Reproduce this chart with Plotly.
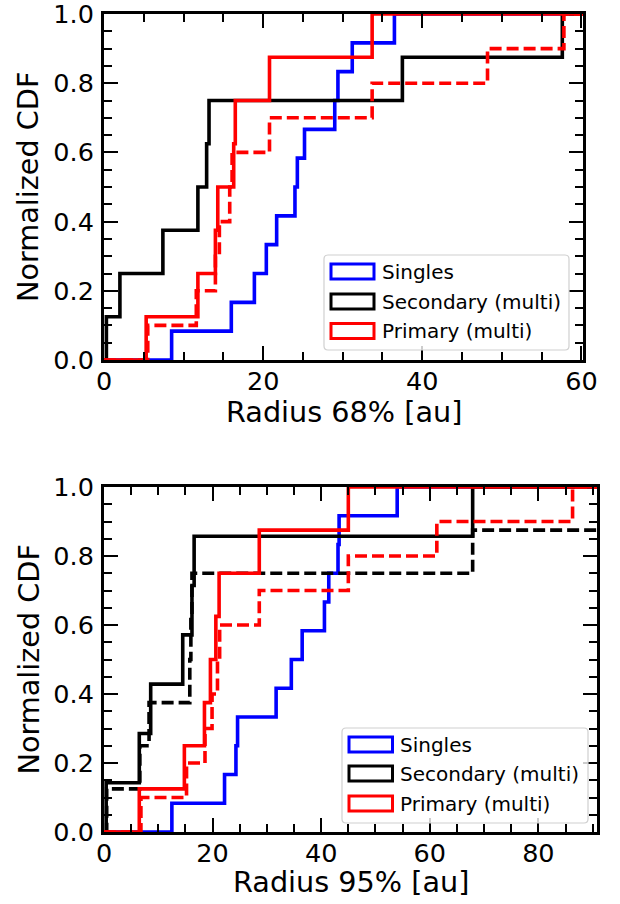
import plotly.graph_objects as go

# ---------------- data ----------------
# Top panel: Radius 68% [au]
r68_singles = [8.5, 16.0, 18.9, 20.4, 21.7, 24.0, 24.3, 25.2, 29.0, 29.4, 31.2, 36.5]
r68_secondary = [0.3, 2.0, 7.4, 11.8, 12.9, 13.2, 37.5, 57.6]
r68_primary = [5.3, 11.8, 14.0, 14.3, 16.3, 16.5, 20.8, 33.7]
r68_primary_alt = [5.5, 11.6, 14.0, 14.5, 15.8, 16.1, 20.8, 33.7, 48.2, 57.8]

# Bottom panel: Radius 95% [au]
r95_singles = [12.5, 22.2, 24.3, 24.6, 31.7, 34.5, 36.5, 40.6, 41.4, 43.1, 43.3, 54.0]
r95_secondary = [0.4, 6.5, 8.6, 14.5, 16.2, 16.6, 67.9]
r95_secondary_alt = [0.5, 6.6, 8.3, 15.8, 16.0, 16.2, 67.9, 96.0]
r95_primary = [6.5, 14.8, 18.5, 19.6, 20.6, 21.2, 28.6, 45.0]
r95_primary_alt = [6.8, 15.2, 18.6, 19.9, 20.9, 21.3, 28.6, 45.0, 61.3, 86.3]

legend_labels = ["Singles", "Secondary (multi)", "Primary (multi)"]
legend_colors = ["#0000ff", "#000000", "#ff0000"]

x_titles = ["Radius 68% [au]", "Radius 95% [au]"]
y_title = "Normalized CDF"
x_ranges = [[0, 60.2], [0, 90.8]]

# page is 620x904; the body margin is removed in the page (post_script) so
# the figure fills the window exactly.
W, H = 620, 904
OFF = 0
FONT = "DejaVu Sans"
TICK_SIZE = 25.5
TITLE_SIZE = 28.7


def cdf_xy(vals, xend):
    v = sorted(vals)
    n = len(v)
    xs = [0] + v + [max(xend, v[-1])]
    ys = [0] + [(i + 1) / n for i in range(n)] + [1.0]
    return xs, ys


fig = go.Figure()

panels = [
    ("x", "y", x_ranges[0], [
        (r68_singles, "#0000ff", "solid"),
        (r68_secondary, "#000000", "solid"),
        (r68_primary_alt, "#ff0000", "dash"),
        (r68_primary, "#ff0000", "solid"),
    ]),
    ("x2", "y2", x_ranges[1], [
        (r95_singles, "#0000ff", "solid"),
        (r95_secondary_alt, "#000000", "dash"),
        (r95_secondary, "#000000", "solid"),
        (r95_primary_alt, "#ff0000", "dash"),
        (r95_primary, "#ff0000", "solid"),
    ]),
]

for xa, ya, xr, series in panels:
    for vals, col, dash in series:
        xs, ys = cdf_xy(vals, xr[1] + 5)
        fig.add_trace(go.Scatter(
            x=xs, y=ys, xaxis=xa, yaxis=ya, mode="lines",
            line=dict(color=col, width=3.6, shape="hv",
                      dash="12px,5px" if dash == "dash" else "solid"),
            showlegend=False, hoverinfo="skip"))


def px2paper(x, y):
    return (x - OFF) / W, 1 - (y - OFF) / H


def xdom(x0, x1):
    return [px2paper(x0, 0)[0], px2paper(x1, 0)[0]]


def ydom(y0, y1):
    return [px2paper(0, y1)[1], px2paper(0, y0)[1]]


# plot areas in page pixels
top = dict(x0=104, x1=583, y0=14, y1=360)
bot = dict(x0=104, x1=597, y0=487, y1=832)

axis_common = dict(
    showline=True, linewidth=3, linecolor="black", mirror="allticks",
    ticks="inside", ticklen=14, tickwidth=2, tickcolor="black",
    showgrid=False, zeroline=False, automargin=False,
    ticklabeloverflow="allow",
    tickfont=dict(family=FONT, size=TICK_SIZE, color="black"),
)
xminor = dict(ticks="inside", ticklen=8, tickwidth=2, dtick=5, tickcolor="black")
yminor = dict(ticks="inside", ticklen=8, tickwidth=2, dtick=0.05, tickcolor="black")

fig.update_layout(
    template="none",
    width=W, height=H, margin=dict(l=0, r=0, t=0, b=0),
    paper_bgcolor="white", plot_bgcolor="white",
    font=dict(family=FONT, color="black"),
    xaxis=dict(domain=xdom(top["x0"], top["x1"]), range=x_ranges[0],
               anchor="y", dtick=20, tick0=0, minor=xminor,
               ticklabelstandoff=-4, **axis_common),
    yaxis=dict(domain=ydom(top["y0"], top["y1"]), range=[0, 1],
               anchor="x", dtick=0.2, tick0=0, tickformat=".1f", minor=yminor,
               ticklabelstandoff=2, **axis_common),
    xaxis2=dict(domain=xdom(bot["x0"], bot["x1"]), range=x_ranges[1],
                anchor="y2", dtick=20, tick0=0, minor=xminor,
                ticklabelstandoff=-4, **axis_common),
    yaxis2=dict(domain=ydom(bot["y0"], bot["y1"]), range=[0, 1],
                anchor="x2", dtick=0.2, tick0=0, tickformat=".1f", minor=yminor,
                ticklabelstandoff=2, **axis_common),
)

shapes = []
annotations = []

# axis titles
for title, (cx, cy) in zip(x_titles, [((top["x0"] + top["x1"]) / 2, 412),
                                      ((bot["x0"] + bot["x1"]) / 2, 881.5)]):
    ax, ay = px2paper(cx, cy)
    annotations.append(dict(xref="paper", yref="paper", x=ax, y=ay, xanchor="center",
                            yanchor="middle", showarrow=False, text=title,
                            font=dict(family=FONT, size=TITLE_SIZE, color="black")))
for cy in [(top["y0"] + top["y1"]) / 2, (bot["y0"] + bot["y1"]) / 2]:
    ax, ay = px2paper(28, cy)
    annotations.append(dict(xref="paper", yref="paper", x=ax, y=ay, xanchor="center",
                            yanchor="middle", showarrow=False, text=y_title, textangle=-90,
                            font=dict(family=FONT, size=TITLE_SIZE, color="black")))


# ---------------- manual legends (patch-style, like the reference) ----------------
def rounded_rect_path(x0, y0, x1, y1, r):
    def P(x, y):
        a, b = px2paper(x, y)
        return f"{a:.5f},{b:.5f}"
    return (f"M {P(x0 + r, y0)} L {P(x1 - r, y0)} Q {P(x1, y0)} {P(x1, y0 + r)} "
            f"L {P(x1, y1 - r)} Q {P(x1, y1)} {P(x1 - r, y1)} "
            f"L {P(x0 + r, y1)} Q {P(x0, y1)} {P(x0, y1 - r)} "
            f"L {P(x0, y0 + r)} Q {P(x0, y0)} {P(x0 + r, y0)} Z")


legend_specs = [
    dict(box=(324, 255, 569, 350), patch_x=(331, 374), rows=[271.5, 301.5, 331], text_x=380),
    dict(box=(342, 728, 588, 823), patch_x=(349, 392.5), rows=[744.5, 773.5, 803.5], text_x=398),
]

for spec in legend_specs:
    bx0, by0, bx1, by1 = spec["box"]
    shapes.append(dict(type="path", xref="paper", yref="paper",
                       path=rounded_rect_path(bx0, by0, bx1, by1, 4),
                       fillcolor="rgba(255,255,255,0.8)",
                       line=dict(color="#d0d0d0", width=1.2)))
    for lab, col, cy in zip(legend_labels, legend_colors, spec["rows"]):
        px0, py0 = px2paper(spec["patch_x"][0], cy - 7.5)
        px1, py1 = px2paper(spec["patch_x"][1], cy + 7.5)
        shapes.append(dict(type="rect", xref="paper", yref="paper",
                           x0=px0, x1=px1, y0=py1, y1=py0,
                           fillcolor="rgba(0,0,0,0)", line=dict(color=col, width=3)))
        tx, ty = px2paper(spec["text_x"], cy)
        annotations.append(dict(xref="paper", yref="paper", x=tx, y=ty,
                                xanchor="left", yanchor="middle", showarrow=False,
                                text=lab, font=dict(family=FONT, size=20, color="black")))

fig.update_layout(shapes=shapes, annotations=annotations)

fig.write_html("out.html",
               config={"displayModeBar": False, "staticPlot": True},
               post_script="document.body.style.margin='0px';"
                           "document.body.style.overflow='hidden';")
